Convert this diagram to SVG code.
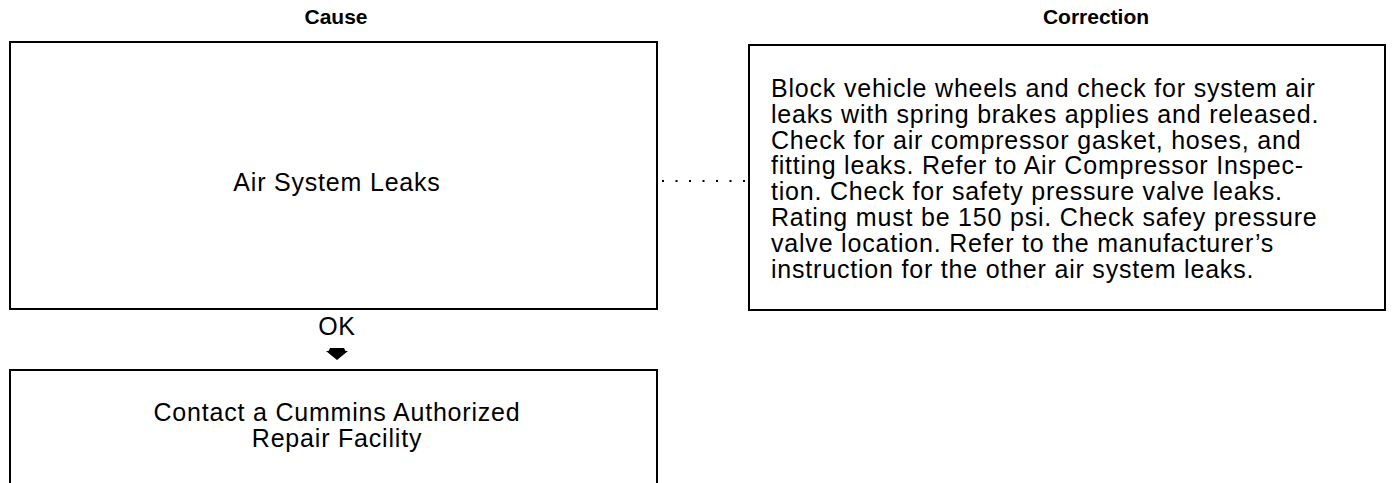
<svg xmlns="http://www.w3.org/2000/svg" width="1396" height="483" viewBox="0 0 1396 483">
<style>
.box{fill:#fff;stroke:#000;stroke-width:2}
.t{font-family:"Liberation Sans",Arial,sans-serif;font-size:25px;letter-spacing:0.8px;fill:#000}
.h{font-family:"Liberation Sans",Arial,sans-serif;font-size:21px;font-weight:bold;fill:#000;text-anchor:middle}
.c{text-anchor:middle}
</style>
<rect width="1396" height="483" fill="#fff"/>
<text class="h" x="336" y="24">Cause</text>
<text class="h" x="1096" y="24">Correction</text>
<g id="connectors">
<line x1="662" y1="181" x2="746" y2="181" stroke="#000" stroke-width="2.2" stroke-dasharray="2 11.5"/>
<path d="M326,351 L348,351 L337,360 Z M330,348 L344,348 L346,352 L328,352 Z" fill="#000"/>
</g>
<g id="cause">
<rect class="box" x="10" y="42" width="647" height="267"/>
<text class="t c" x="337" y="191">Air System Leaks</text>
</g>
<g id="ok">
<text class="t c" x="337" y="335">OK</text>
</g>
<g id="correction">
<rect class="box" x="749" y="45" width="636" height="265"/>
<text class="t" x="771" y="97">
<tspan x="771" dy="0">Block vehicle wheels and check for system air</tspan>
<tspan x="771" dy="25.8">leaks with spring brakes applies and released.</tspan>
<tspan x="771" dy="25.8">Check for air compressor gasket, hoses, and</tspan>
<tspan x="771" dy="25.8">fitting leaks. Refer to Air Compressor Inspec-</tspan>
<tspan x="771" dy="25.8">tion. Check for safety pressure valve leaks.</tspan>
<tspan x="771" dy="25.8">Rating must be 150 psi. Check safey pressure</tspan>
<tspan x="771" dy="25.8">valve location. Refer to the manufacturer’s</tspan>
<tspan x="771" dy="25.8">instruction for the other air system leaks.</tspan>
</text>
</g>
<g id="contact">
<rect class="box" x="10" y="370" width="647" height="120"/>
<text class="t c" x="337" y="421">Contact a Cummins Authorized</text>
<text class="t c" x="337" y="447">Repair Facility</text>
</g>
</svg>
